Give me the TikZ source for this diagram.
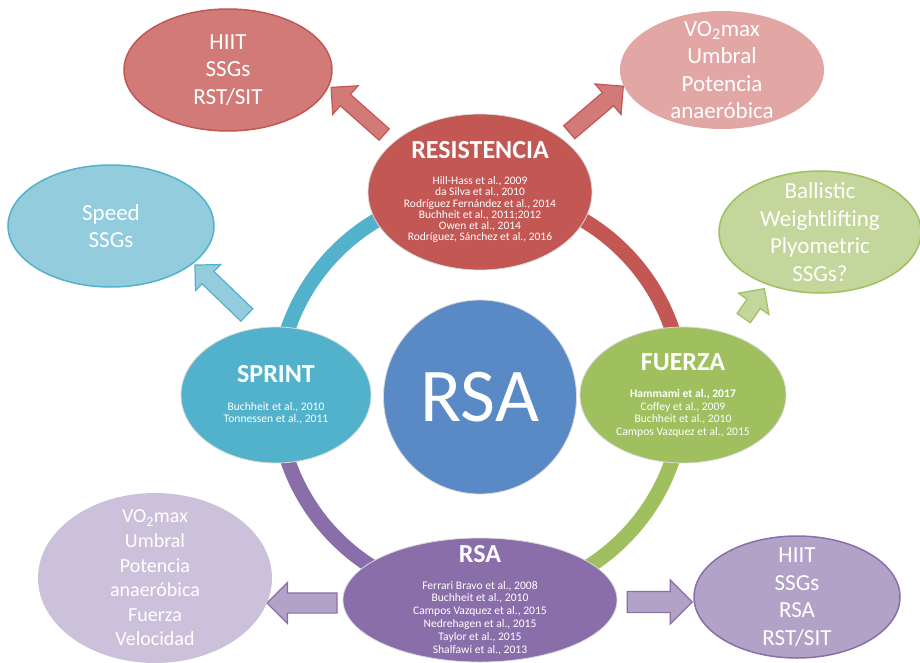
\documentclass[tikz,border=0pt]{standalone}
\usepackage{fontspec}
\setmainfont{Carlito}
\usetikzlibrary{shapes.geometric,shapes.arrows}

\definecolor{resred}{HTML}{C25754}
\definecolor{resredl}{HTML}{D17A78}
\definecolor{resredp}{HTML}{E2A6A5}
\definecolor{sprblue}{HTML}{53B2CB}
\definecolor{sprbluel}{HTML}{93CDDD}
\definecolor{fzgreen}{HTML}{A0BF5E}
\definecolor{fzgreenl}{HTML}{C3D69B}
\definecolor{rsapurple}{HTML}{8A6EAA}
\definecolor{rsapurplel}{HTML}{B3A2C7}
\definecolor{rsapurplep}{HTML}{CCC1DA}
\definecolor{rsablue}{HTML}{5A8AC6}

\newcommand\ttl{\fontsize{26}{28}\selectfont\bfseries}

\tikzset{
  ringarc/.style={line width=15pt},
  ringnode/.style={ellipse, draw=black!15, line width=0.8pt, text=white, align=center, inner sep=-25pt},
  outer/.style={ellipse, line width=1.5pt, text=white, align=center, inner sep=-25pt, font=\fontsize{23}{27.5}\selectfont},
  blockarr/.style 2 args={single arrow, inner xsep=0pt, inner ysep=#1, single arrow head extend=#2, line width=1.2pt},
}

\begin{document}
\begin{tikzpicture}[x=100pt,y=100pt]

  \useasboundingbox (-4.80,-2.67) rectangle (4.40,3.95);

  \draw[ringarc, resred] (0:2.03) arc[start angle=0, end angle=90, radius=2.03];
  \draw[ringarc, sprblue] (90:2.03) arc[start angle=90, end angle=180, radius=2.03];
  \draw[ringarc, rsapurple] (180:2.03) arc[start angle=180, end angle=270, radius=2.03];
  \draw[ringarc, fzgreen] (270:2.03) arc[start angle=270, end angle=360, radius=2.03];

  \node[blockarr={7pt}{11.5pt}, fill=resredl, draw=resred, minimum height=71pt, rotate=138.4] (toHiit) at (-1.195,2.815) {};
  \node[blockarr={8pt}{11.5pt}, fill=resredl, draw=resred, minimum height=71pt, rotate=40.4] (toVo) at (1.13,2.83) {};
  \node[blockarr={8pt}{9.5pt}, fill=sprbluel, draw=sprblue, minimum height=72pt, rotate=136.1] (toSpeed) at (-2.56,1.02) {};
  \node[blockarr={7.5pt}{10.5pt}, fill=fzgreenl, draw=fzgreen, minimum height=36pt, rotate=55] (toBall) at (2.717,0.883) {};
  \node[blockarr={9.5pt}{10.5pt}, fill=rsapurplel, draw=rsapurple, minimum height=70pt, rotate=180] (toLeft) at (-1.73,-2.08) {};
  \node[blockarr={10pt}{11.5pt}, fill=rsapurplel, draw=rsapurple, minimum height=65pt] (toRight) at (1.745,-2.07) {};

  \node[outer, fill=resredl, draw=resred, minimum width=208pt, minimum height=122pt] (hiit) at (-2.52,3.25) {HIIT\\SSGs\\RST/SIT};
  \node[outer, fill=resredp, minimum width=204pt, minimum height=118pt] (vo) at (2.42,3.25) {VO\textsubscript{2}max\\Umbral\\Potencia\\anaeróbica};
  \node[outer, fill=sprbluel, draw=sprblue, minimum width=206pt, minimum height=122pt] (speed) at (-3.69,1.69) {Speed\\SSGs};
  \node[outer, fill=fzgreenl, draw=fzgreen, minimum width=202pt, minimum height=122pt] (ball) at (3.40,1.63) {Ballistic\\Weightlifting\\Plyometric\\SSGs?};
  \node[outer, fill=rsapurplep, minimum width=234pt, minimum height=170pt, font=\fontsize{20}{24.6}\selectfont] (lowleft) at (-3.25,-1.83) {VO\textsubscript{2}max\\Umbral\\Potencia\\anaeróbica\\Fuerza\\Velocidad};
  \node[outer, fill=rsapurplel, draw=rsapurple, minimum width=206pt, minimum height=122pt] (lowright) at (3.17,-2.02) {HIIT\\SSGs\\RSA\\RST/SIT};

  \node[ringnode, fill=resred, minimum width=224pt, minimum height=156pt, font=\fontsize{11.5}{11.2}\selectfont] (resist) at (90:2.03)
    {{\ttl RESISTENCIA}\\[15pt]Hill-Hass et al., 2009\\da Silva et al., 2010\\Rodríguez Fernández et al., 2014\\Buchheit et al., 2011;2012\\Owen et al., 2014\\Rodríguez, Sánchez et al., 2016};
  \node[ringnode, fill=sprblue, minimum width=190pt, minimum height=136pt, font=\fontsize{11.6}{12.5}\selectfont] (sprint) at (180:2.04)
    {{\ttl SPRINT}\\[15pt]Buchheit et al., 2010\\Tonnessen et al., 2011};
  \node[ringnode, fill=fzgreen, minimum width=206pt, minimum height=136pt, font=\fontsize{11.6}{12.5}\selectfont] (fuerza) at (0:2.03)
    {{\ttl FUERZA}\\[15pt]\textbf{Hammami et al., 2017}\\Coffey et al., 2009\\Buchheit et al., 2010\\Campos Vazquez et al., 2015};
  \node[ringnode, fill=rsapurple, minimum width=274pt, minimum height=124pt, font=\fontsize{11.6}{12.8}\selectfont] (rsab) at (270:2.05)
    {{\ttl RSA}\\[14pt]Ferrari Bravo et al., 2008\\Buchheit et al., 2010\\Campos Vazquez et al., 2015\\Nedrehagen et al., 2015\\Taylor et al., 2015\\Shalfawi et al., 2013};

  \node[ringnode, fill=rsablue, minimum width=193pt, minimum height=194pt, font=\fontsize{76}{76}\selectfont] (rsa) at (0,-0.02) {RSA};

\end{tikzpicture}
\end{document}
